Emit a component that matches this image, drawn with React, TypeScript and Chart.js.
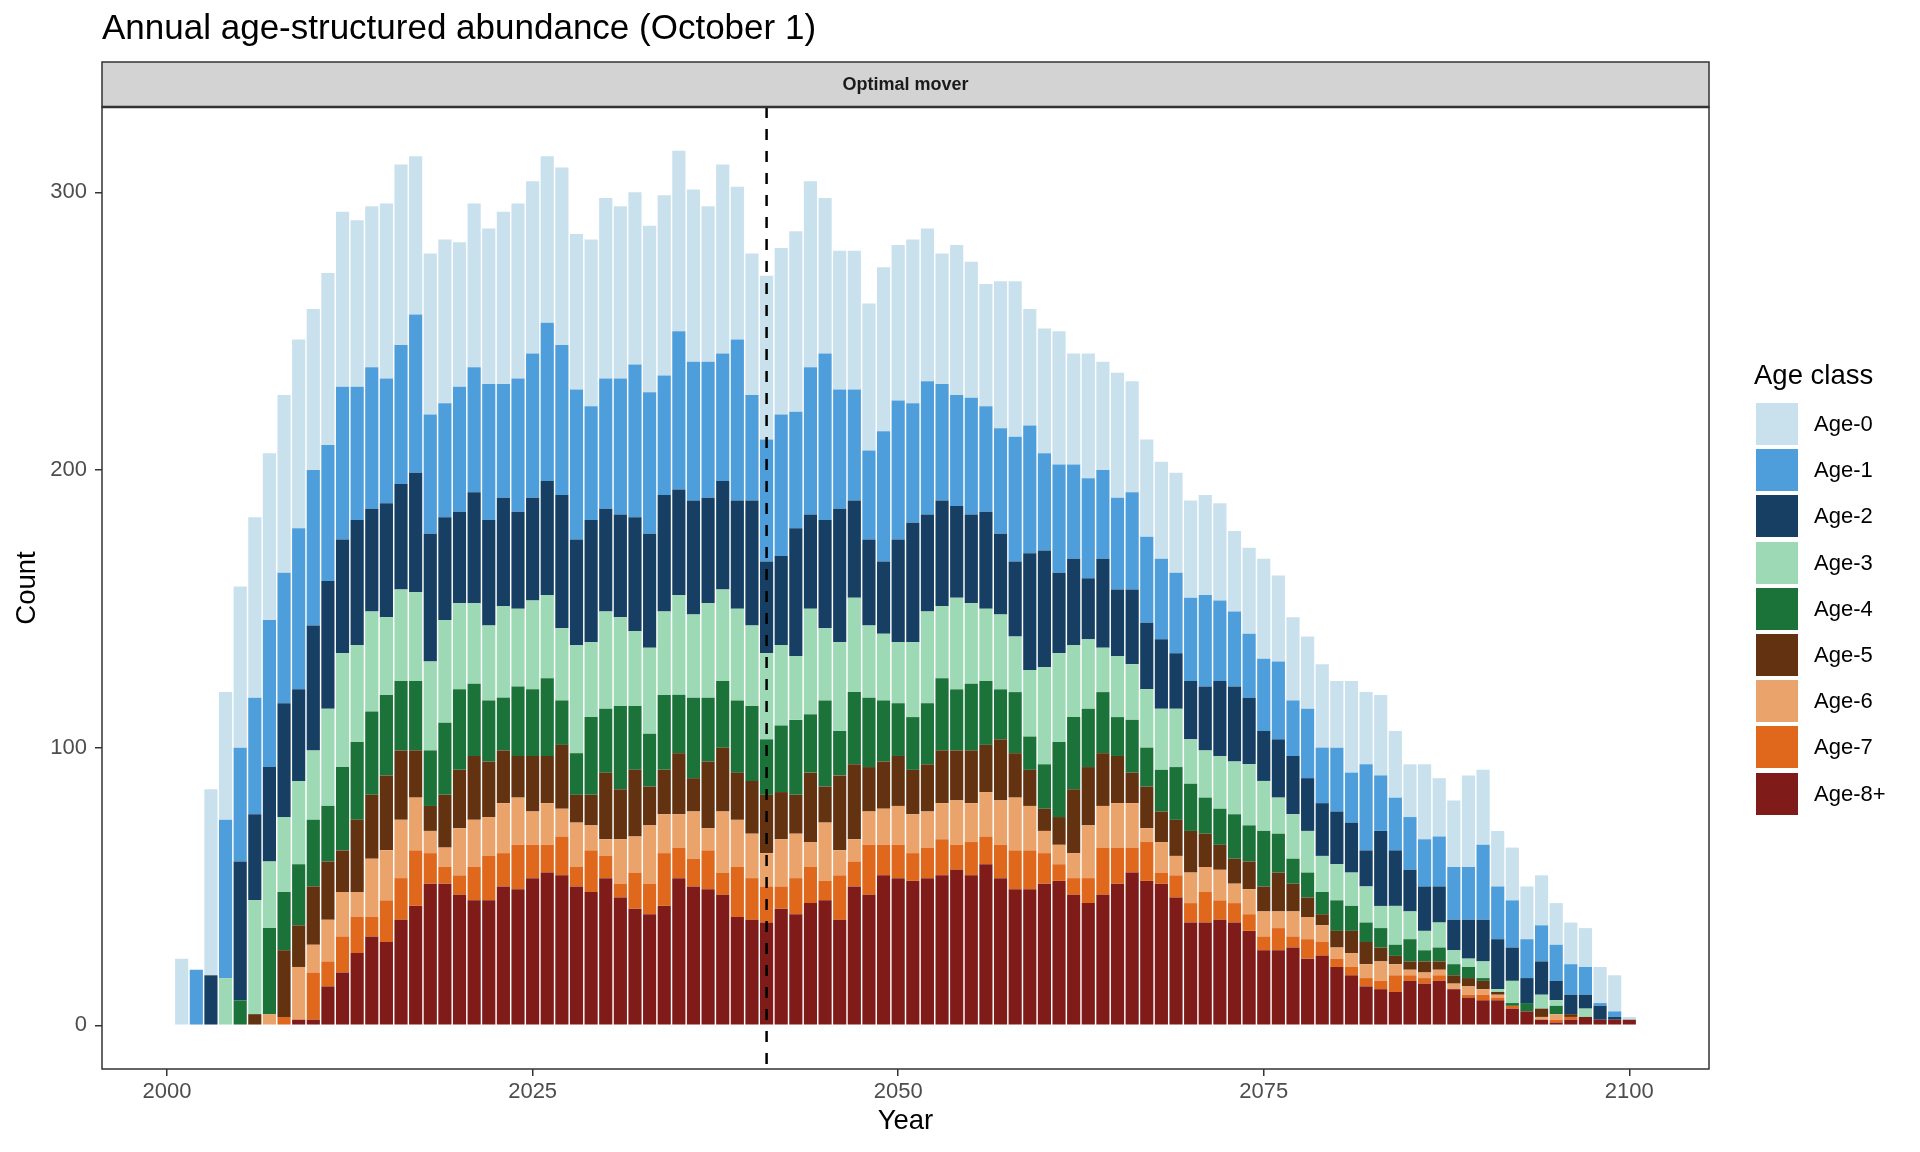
import React, { useEffect, useRef } from "react";
import { Chart, registerables } from "chart.js";

Chart.register(...registerables);

const FONT = "'Liberation Sans', Arial, Helvetica, sans-serif";

const titleText = "Annual age-structured abundance (October 1)";
const stripLabel = "Optimal mover";
const legendTitle = "Age class";
const xTitle = "Year";
const yTitle = "Count";
const policyYear = 2041;

const years = Array.from({ length: 100 }, (_, i) => 2001 + i);
const xTicks = [2000, 2025, 2050, 2075, 2100];
const yTicks = [0, 100, 200, 300];

const ageLabels = ["Age-0", "Age-1", "Age-2", "Age-3", "Age-4", "Age-5", "Age-6", "Age-7", "Age-8+"];
const ageColors = ["#C9E0ED", "#4E9EDB", "#173F63", "#9DD9B4", "#1C7339", "#623211", "#EAA36B", "#DF681C", "#7F1C1A"];

const age0 = [
  24, 0, 67, 46, 58, 65, 60, 64, 68, 58,
  62, 63, 60, 58, 63, 65, 57, 58, 59, 52,
  59, 56, 62, 63, 62, 60, 64, 56, 60, 65,
  62, 62, 60, 65, 65, 62, 56, 68, 55, 51,
  59, 60, 65, 67, 56, 50, 50, 53, 59, 56,
  59, 55, 47, 54, 49, 44, 53, 56, 42, 45,
  48, 40, 45, 39, 45, 40, 35, 35, 36, 35,
  36, 35, 29, 31, 36, 31, 30, 26, 30, 24,
  33, 26, 29, 24, 19, 27, 21, 24, 33, 27,
  20, 19, 19, 18, 15, 15, 14, 13, 13, 1,
];
const age1 = [
  0, 20, 0, 57, 41, 42, 53, 47, 58, 56,
  49, 55, 48, 51, 45, 50, 57, 43, 41, 45,
  45, 49, 41, 48, 52, 57, 54, 54, 41, 47,
  49, 55, 51, 43, 57, 50, 49, 46, 58, 38,
  44, 51, 42, 53, 60, 43, 40, 32, 47, 50,
  43, 48, 42, 40, 42, 38, 38, 45, 46, 35,
  39, 34, 36, 32, 33, 35, 31, 29, 29, 30,
  33, 29, 27, 23, 26, 28, 20, 25, 20, 23,
  18, 31, 20, 19, 19, 17, 18, 19, 19, 27,
  19, 17, 14, 13, 13, 11, 10, 1, 2, 0,
];
const age2 = [
  0, 0, 18, 0, 50, 31, 34, 41, 33, 45,
  46, 41, 45, 37, 41, 38, 43, 46, 37, 33,
  40, 38, 39, 35, 37, 41, 48, 38, 44, 37,
  37, 41, 41, 42, 38, 41, 38, 39, 39, 45,
  33, 32, 46, 34, 39, 48, 35, 31, 26, 37,
  43, 35, 38, 33, 32, 35, 29, 27, 42, 42,
  29, 31, 22, 32, 24, 27, 24, 25, 20, 21,
  23, 27, 27, 24, 18, 21, 21, 19, 19, 19,
  18, 13, 27, 20, 15, 16, 13, 11, 14, 15,
  18, 12, 9, 12, 7, 7, 5, 5, 1, 0,
];
const age3 = [
  0, 0, 0, 17, 0, 41, 24, 27, 30, 25,
  35, 41, 35, 36, 28, 33, 32, 32, 37, 31,
  29, 27, 33, 28, 32, 30, 26, 39, 27, 35,
  32, 27, 31, 30, 36, 30, 34, 33, 33, 29,
  31, 29, 23, 38, 26, 32, 34, 26, 24, 22,
  27, 33, 26, 33, 29, 26, 27, 20, 24, 35,
  32, 26, 25, 16, 22, 20, 21, 22, 21, 16,
  17, 19, 19, 22, 18, 13, 16, 15, 13, 13,
  12, 13, 8, 14, 10, 7, 9, 5, 3, 6,
  1, 8, 0, 5, 2, 0, 3, 0, 0, 0,
];
const age4 = [
  0, 0, 0, 0, 9, 0, 31, 21, 22, 24,
  20, 30, 28, 30, 29, 25, 25, 20, 26, 29,
  26, 22, 19, 25, 24, 28, 16, 15, 28, 23,
  30, 23, 19, 27, 21, 29, 23, 24, 26, 27,
  20, 24, 27, 21, 31, 16, 26, 25, 22, 19,
  19, 22, 26, 22, 24, 23, 18, 22, 12, 16,
  27, 26, 21, 22, 14, 19, 14, 15, 19, 17,
  13, 13, 16, 13, 20, 14, 9, 9, 8, 11,
  9, 7, 7, 4, 8, 4, 5, 4, 4, 1,
  0, 1, 3, 0, 3, 0, 0, 0, 0, 0,
];
const age5 = [
  0, 0, 0, 0, 0, 4, 0, 24, 15, 21,
  21, 15, 26, 23, 27, 25, 17, 9, 19, 21,
  23, 20, 19, 15, 20, 17, 23, 10, 11, 24,
  18, 24, 14, 16, 22, 12, 24, 23, 17, 19,
  21, 17, 14, 25, 13, 27, 27, 16, 17, 18,
  16, 17, 19, 18, 19, 17, 22, 16, 13, 8,
  10, 23, 21, 19, 17, 11, 15, 11, 13, 15,
  12, 9, 9, 10, 9, 14, 10, 7, 4, 6,
  8, 8, 5, 3, 3, 4, 3, 3, 3, 3,
  1, 0, 0, 3, 0, 1, 0, 0, 0, 0,
];
const age6 = [
  0, 0, 0, 0, 0, 0, 4, 0, 19, 10,
  15, 16, 9, 21, 18, 21, 19, 8, 7, 17,
  17, 14, 18, 17, 12, 15, 10, 16, 9, 6,
  16, 13, 21, 14, 12, 17, 8, 22, 17, 16,
  12, 17, 16, 9, 21, 9, 8, 12, 13, 14,
  14, 13, 13, 16, 14, 16, 16, 19, 16, 8,
  7, 9, 19, 15, 16, 16, 5, 11, 7, 11,
  9, 11, 7, 9, 9, 6, 9, 8, 6, 4,
  5, 5, 7, 4, 2, 2, 2, 2, 3, 2,
  1, 0, 0, 1, 2, 0, 0, 0, 0, 0,
];
const age7 = [
  0, 0, 0, 0, 0, 0, 0, 3, 0, 17,
  9, 13, 13, 7, 15, 15, 20, 11, 6, 7,
  12, 16, 12, 16, 12, 10, 14, 7, 15, 8,
  5, 13, 11, 19, 11, 10, 14, 8, 18, 15,
  13, 8, 13, 13, 7, 16, 9, 18, 11, 12,
  10, 11, 13, 9, 12, 10, 12, 14, 14, 11,
  6, 6, 9, 17, 13, 9, 14, 4, 8, 7,
  11, 7, 7, 6, 5, 8, 4, 7, 5, 3,
  3, 3, 3, 6, 2, 2, 2, 0, 1, 2,
  1, 1, 0, 0, 1, 1, 0, 0, 0, 0,
];
const age8 = [
  0, 0, 0, 0, 0, 0, 0, 0, 2, 2,
  14, 19, 26, 32, 30, 38, 43, 51, 51, 47,
  45, 45, 50, 49, 53, 55, 54, 50, 48, 53,
  46, 42, 40, 43, 53, 50, 49, 47, 39, 38,
  37, 42, 40, 44, 45, 38, 50, 47, 54, 53,
  52, 53, 54, 56, 54, 58, 53, 49, 49, 51,
  52, 47, 44, 47, 51, 55, 52, 51, 46, 37,
  37, 38, 37, 34, 27, 27, 28, 24, 25, 21,
  18, 14, 13, 12, 16, 15, 16, 13, 10, 9,
  9, 6, 5, 2, 1, 2, 3, 2, 2, 2,
];

const ageSeries = [age0, age1, age2, age3, age4, age5, age6, age7, age8];

const STRIP_H = 45;

const panelPlugin = {
  id: "panelDecor",
  beforeDraw(chart: any) {
    const { ctx, chartArea: a } = chart;
    ctx.save();
    ctx.fillStyle = "#FFFFFF";
    ctx.fillRect(0, 0, chart.width, chart.height);
    ctx.fillStyle = "#D3D3D3";
    ctx.fillRect(a.left, a.top - STRIP_H, a.right - a.left, STRIP_H);
    ctx.restore();
  },
  afterDatasetsDraw(chart: any) {
    const { ctx, chartArea: a, scales } = chart;
    const x = scales.x.getPixelForValue(policyYear);
    ctx.save();
    ctx.setLineDash([11, 11]);
    ctx.lineWidth = 2.5;
    ctx.strokeStyle = "#000000";
    ctx.beginPath();
    ctx.moveTo(x, a.top);
    ctx.lineTo(x, a.bottom);
    ctx.stroke();
    ctx.setLineDash([]);
    ctx.strokeStyle = "#333333";
    ctx.lineWidth = 1.5;
    ctx.strokeRect(a.left, a.top, a.right - a.left, a.bottom - a.top);
    ctx.strokeRect(a.left, a.top - STRIP_H, a.right - a.left, STRIP_H);
    ctx.lineWidth = 2.5;
    ctx.beginPath();
    ctx.moveTo(a.left, a.top);
    ctx.lineTo(a.right, a.top);
    ctx.stroke();
    ctx.restore();
  },
};

export default function App() {
  const canvasRef = useRef<HTMLCanvasElement | null>(null);

  useEffect(() => {
    if (!canvasRef.current) return;
    Chart.defaults.font.family = FONT;
    const datasets = ageSeries
      .map((d, i) => ({
        label: ageLabels[i],
        data: d,
        backgroundColor: ageColors[i],
        borderWidth: 0,
        barPercentage: 0.9,
        categoryPercentage: 1.0,
      }))
      .reverse();

    const tickGrid = {
      display: true,
      offset: false,
      drawOnChartArea: false,
      drawTicks: true,
      tickLength: 7,
      color: "#333333",
      lineWidth: 1.5,
    };

    const chart = new Chart(canvasRef.current, {
      type: "bar",
      data: { labels: years, datasets },
      options: {
        responsive: false,
        animation: false,
        events: [],
        layout: { padding: { left: 0, right: 211, top: 0, bottom: 0 } },
        plugins: {
          legend: { display: false },
          tooltip: { enabled: false },
          title: {
            display: true,
            text: titleText,
            align: "start",
            fullSize: false,
            color: "#000000",
            font: { size: 35, weight: "normal", family: FONT },
            padding: { top: 8.4, bottom: 11.6 },
          },
          subtitle: {
            display: true,
            text: stripLabel,
            align: "center",
            fullSize: false,
            color: "#1A1A1A",
            font: { size: 18, weight: "bold", family: FONT },
            padding: { top: 12.5, bottom: 10.9 },
          },
        },
        scales: {
          x: {
            type: "linear",
            offset: false,
            stacked: true,
            min: 1995.55,
            max: 2105.45,
            afterBuildTicks: (s: any) => {
              s.ticks = xTicks.map((v) => ({ value: v }));
            },
            afterFit: (s: any) => {
              s.height = 83;
            },
            ticks: {
              callback: (v: any) => String(v),
              color: "#4D4D4D",
              font: { size: 22, family: FONT },
              padding: 3,
              maxRotation: 0,
              autoSkip: false,
            },
            grid: tickGrid,
            border: { display: false },
            title: {
              display: true,
              text: xTitle,
              color: "#000000",
              font: { size: 27.5, family: FONT },
              padding: { top: 0, bottom: 14.5 },
            },
          },
          y: {
            type: "linear",
            stacked: true,
            min: -15.75,
            max: 330.75,
            afterBuildTicks: (s: any) => {
              s.ticks = yTicks.map((v) => ({ value: v }));
            },
            afterFit: (s: any) => {
              s.width = 102;
            },
            ticks: {
              callback: (v: any) => String(v),
              color: "#4D4D4D",
              font: { size: 22, family: FONT },
              padding: 8,
            },
            grid: tickGrid,
            border: { display: false },
            title: {
              display: true,
              text: yTitle,
              color: "#000000",
              font: { size: 27.5, family: FONT },
              padding: { top: 10.5, bottom: 0 },
            },
          },
        },
      } as any,
      plugins: [panelPlugin],
    });
    return () => chart.destroy();
  }, []);

  return (
    <div
      style={{
        position: "fixed",
        left: 0,
        top: 0,
        width: 1920,
        height: 1152,
        background: "#FFFFFF",
        fontFamily: FONT,
      }}
    >
      <canvas ref={canvasRef} width={1920} height={1152} style={{ display: "block" }} />
      <div
        style={{
          position: "absolute",
          left: 1754,
          top: 361,
          fontSize: 27.5,
          lineHeight: "27.5px",
          color: "#000000",
          whiteSpace: "nowrap",
        }}
      >
        {legendTitle}
      </div>
      <div style={{ position: "absolute", left: 1756, top: 403 }}>
        {ageLabels.map((lab, i) => (
          <div
            key={lab}
            style={{ display: "flex", alignItems: "center", height: 42, marginBottom: 4.2 }}
          >
            <div style={{ width: 42, height: 42, background: ageColors[i] }} />
            <span style={{ marginLeft: 16, fontSize: 22, color: "#000000", whiteSpace: "nowrap" }}>
              {lab}
            </span>
          </div>
        ))}
      </div>
    </div>
  );
}
